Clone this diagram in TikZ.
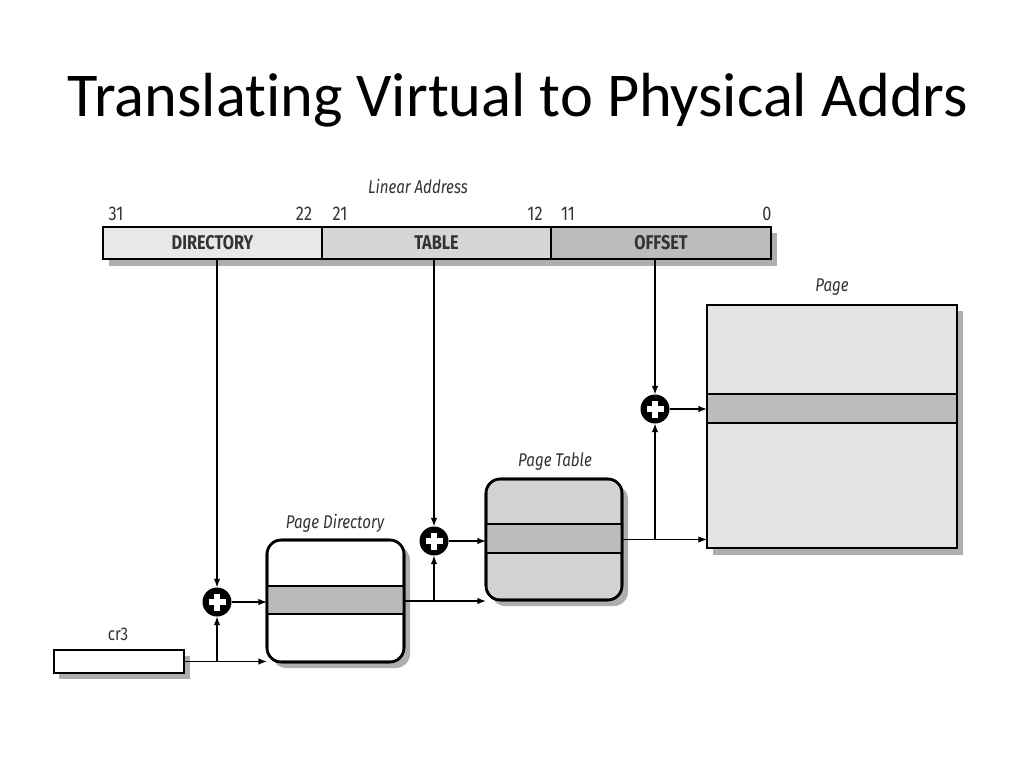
\documentclass[tikz,border=0pt]{standalone}
\usepackage{fontspec}
\setmainfont{Carlito}[RawFeature=-liga]
\newfontfamily\labfont[FakeStretch=0.82]{Fira Sans}
\usetikzlibrary{arrows.meta}
\def\pxu{0.703125bp}
\definecolor{cdir}{HTML}{E8E8E8}
\definecolor{ctab}{HTML}{D6D6D6}
\definecolor{coff}{HTML}{BCBCBC}
\definecolor{cband}{HTML}{B9B9B9}
\definecolor{cpt}{HTML}{D2D2D2}
\definecolor{cpage}{HTML}{E4E4E4}
\definecolor{cshadow}{HTML}{9A9A9A}
\definecolor{ctext}{HTML}{333333}
\begin{document}
\begin{tikzpicture}[x=\pxu,y=-\pxu,
  field/.style={draw=black,line width=1.8bp,inner sep=0pt,outer sep=0pt,minimum height=32*\pxu,
    font=\labfont\bfseries\fontsize{14}{15}\selectfont,text=ctext},
  tablebox/.style={draw=black,line width=1.8bp,rounded corners=10bp,inner sep=0pt,outer sep=0pt},
  band/.style={draw=black,line width=1.6bp,fill=cband,inner sep=0pt,outer sep=0pt},
  shadowbox/.style={fill=cshadow,draw=none,opacity=0.8},
  plus/.style={circle,fill=black,inner sep=0pt,outer sep=0pt,minimum size=29*\pxu},
  lab/.style={font=\labfont\itshape\fontsize{13}{14}\selectfont,text=ctext,inner sep=0pt},
  num/.style={font=\labfont\fontsize{14}{15}\selectfont,text=ctext,inner sep=0pt},
  arr/.style={line width=0.9bp,-{Latex[length=6bp,width=4.5bp]}}]
\useasboundingbox (0,0) rectangle (1024,768);
\fill[white] (0,0) rectangle (1024,768);
% title
\node[font=\fontsize{44}{50}\selectfont,inner sep=0pt] (title) at (518,100) {Translating Virtual to Physical Addrs};
% shadows
\fill[shadowbox] (109,233) rectangle (777,266);
\fill[shadowbox,rounded corners=10bp] (272,546) rectangle (410,668);
\fill[shadowbox,rounded corners=10bp] (491,485) rectangle (628,606);
\fill[shadowbox] (713,311) rectangle (963,555);
\fill[shadowbox] (59,656) rectangle (190,679);
% linear address
\node[field,fill=cdir,minimum width=219*\pxu] (dir) at (212.5,243) {DIRECTORY};
\node[field,fill=ctab,minimum width=229*\pxu] (tab) at (436.5,243) {TABLE};
\node[field,fill=coff,minimum width=220*\pxu] (off) at (661,243) {OFFSET};
\node[lab] (la) at (418,186) {Linear Address};
\node[num] (n31) at (116,214) {31};
\node[num] (n22) at (304,214) {22};
\node[num] (n21) at (340,214) {21};
\node[num] (n12) at (535,214) {12};
\node[num] (n11) at (568,214) {11};
\node[num] (n0) at (767,214) {0};
% cr3
\node[draw=black,line width=1.8bp,fill=white,inner sep=0pt,outer sep=0pt,minimum width=130*\pxu,minimum height=23*\pxu] (cr3) at (119,661.5) {};
\node[lab,font=\labfont\fontsize{13}{14}\selectfont] (cr3l) at (118,634) {cr3};
% page directory
\node[tablebox,fill=white,minimum width=137*\pxu,minimum height=122*\pxu] (pd) at (335.5,601) {};
\node[band,minimum width=137*\pxu,minimum height=28*\pxu] (pdrow) at (335.5,600) {};
\node[tablebox,minimum width=137*\pxu,minimum height=122*\pxu] at (pd) {};
\node[lab] (pdl) at (335,523) {Page Directory};
% page table
\node[tablebox,fill=cpt,minimum width=136*\pxu,minimum height=121*\pxu] (pt) at (554,539.5) {};
\node[band,fill=coff,minimum width=136*\pxu,minimum height=29*\pxu] (ptrow) at (554,538.5) {};
\node[tablebox,minimum width=136*\pxu,minimum height=121*\pxu] at (pt) {};
\node[lab] (ptl) at (555,462) {Page Table};
% page
\node[draw=black,line width=1.8bp,fill=cpage,inner sep=0pt,outer sep=0pt,minimum width=250*\pxu,minimum height=243*\pxu] (pg) at (832,426.5) {};
\node[band,fill=coff,minimum width=250*\pxu,minimum height=29*\pxu] (pgrow) at (832,408.5) {};
\node[lab] (pgl) at (832,287) {Page};
% plus circles
\foreach \n/\x/\y in {p1/217/602,p2/434/541,p3/655/409}{
  \node[plus] (\n) at (\x,\y) {};
  \draw[white,line width=3.8bp] ([xshift=-8.5*\pxu]\n.center) -- ([xshift=8.5*\pxu]\n.center);
  \draw[white,line width=3.8bp] ([yshift=-8.5*\pxu]\n.center) -- ([yshift=8.5*\pxu]\n.center);
}
% connectors
\draw[arr] (p1 |- dir.south) -- (p1.north);
\draw[arr] (p2 |- tab.south) -- (p2.north);
\draw[arr] (p3 |- off.south) -- (p3.north);
\draw[arr] (cr3.east) -- (cr3.east -| pd.west);
\draw[arr] (p1 |- cr3.east) -- (p1.south);
\draw[arr] (p1.east) -- (p1 -| pd.west);
\draw[arr] (pd.east) -- (pd.east -| pt.west);
\draw[arr] (p2 |- pd.east) -- (p2.south);
\draw[arr] (p2.east) -- (p2 -| pt.west);
\draw[arr] (pt.east) -- (pt.east -| pg.west);
\draw[arr] (p3 |- pt.east) -- (p3.south);
\draw[arr] (p3.east) -- (p3 -| pg.west);
\end{tikzpicture}
\end{document}
